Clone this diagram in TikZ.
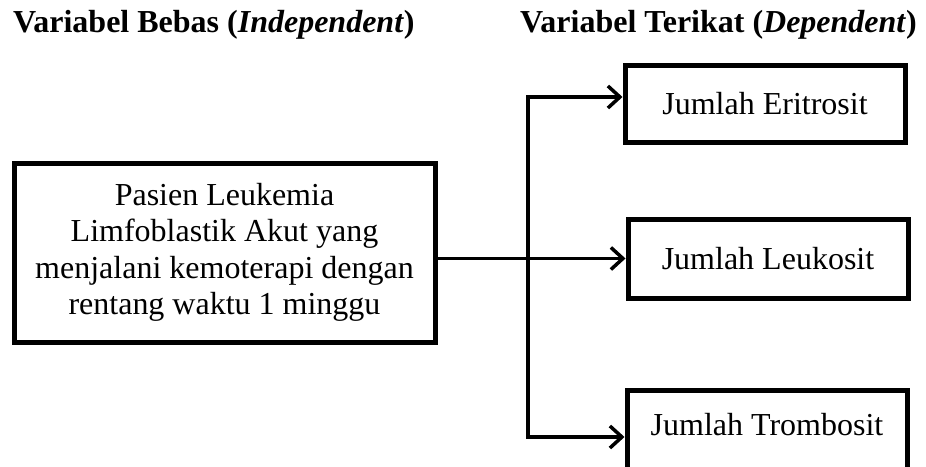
\documentclass[tikz,border=0pt]{standalone}
\usepackage{fontspec}
\setmainfont{Liberation Serif}
\usetikzlibrary{arrows.meta}
\begin{document}
\begin{tikzpicture}[x=1pt,y=-1pt,
  every node/.style={font=\fontsize{32pt}{36.5pt}\selectfont},
  varbox/.style={draw,line width=5pt,inner sep=0pt,align=center},
  outbox/.style={varbox,minimum width=280pt},
  conn/.style={line width=3.5pt,line join=miter},
  arr/.style={conn,-{Straight Barb[length=12pt,width=22pt,line width=3.5pt]}},
  header/.style={anchor=base west,inner sep=0pt,font=\fontsize{32pt}{36.5pt}\selectfont\bfseries}]
\useasboundingbox (0,0) rectangle (926,466);
\node[header] (h1) at (13,32) {Variabel Bebas (\textit{Independent})};
\node[header] (h2) at (520,32) {Variabel Terikat (\textit{Dependent})};
\node[varbox,minimum width=421pt,minimum height=179pt] (src) at (224.5,252.5)
  {Pasien Leukemia\\Limfoblastik Akut yang\\menjalani kemoterapi dengan\\rentang waktu 1 minggu};
\node[outbox,minimum height=77pt] (eri) at (765,103.5) {Jumlah Eritrosit};
\node[outbox,minimum height=79pt] (leu) at (768,258.5) {Jumlah Leukosit};
\node[outbox,minimum height=80pt,text height=21pt,text depth=11pt] (tro) at (767,430) {Jumlah Trombosit};
\coordinate (vt) at (528,97);
\coordinate (vb) at (528,437);
\draw[arr] (src.east |- leu.west) -- (leu.west);
\draw[arr] (vb) -- (vt) -- (eri.west |- vt);
\draw[arr] (vt) -- (vb) -- (tro.west |- vb);
\end{tikzpicture}
\end{document}
